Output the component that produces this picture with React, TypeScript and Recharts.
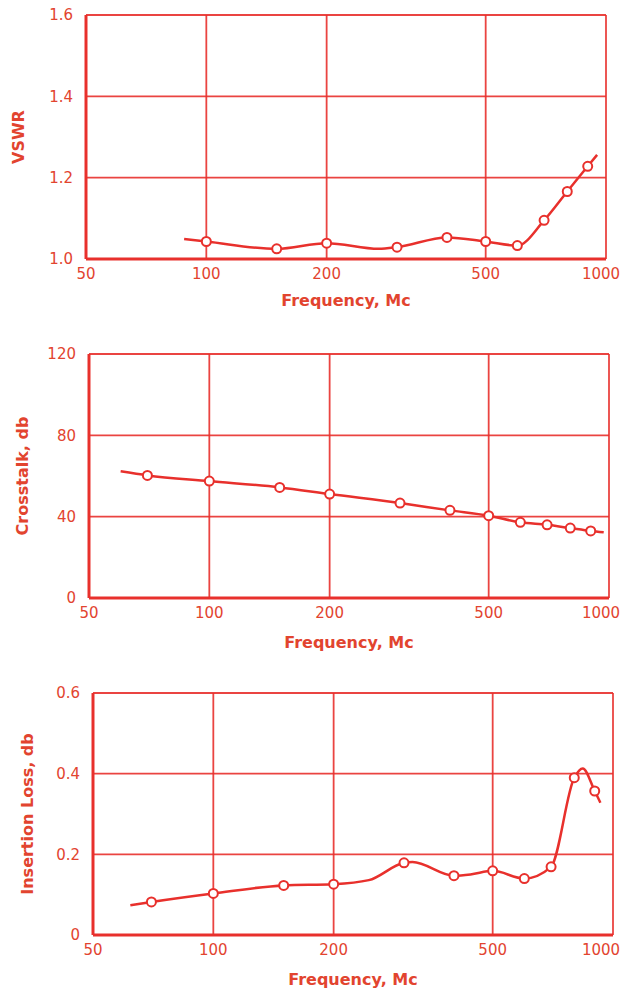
import React from 'react';
import { ComposedChart, Line, Scatter, XAxis, YAxis, CartesianGrid } from 'recharts';

const RED = '#e8302c';
const TEXT_RED = '#e2442f';
const FONT = '"DejaVu Sans", sans-serif';

const freqTicks = [50, 100, 200, 500, 1000];

// VSWR panel
const vswrFreq = [100, 150, 200, 300, 400, 500, 600, 700, 800, 900];
const vswrValues = [1.043, 1.025, 1.039, 1.029, 1.053, 1.043, 1.033, 1.095, 1.166, 1.228];
const vswrCurveFreq = [88, 100, 150, 200, 270, 300, 400, 500, 600, 700, 800, 900, 950];
const vswrCurveValues = [1.049, 1.043, 1.025, 1.039, 1.025, 1.029, 1.053, 1.043, 1.033, 1.095, 1.166, 1.228, 1.256];
const vswrTicks = [1.0, 1.2, 1.4, 1.6];

// Crosstalk panel
const xtalkFreq = [70, 100, 150, 200, 300, 400, 500, 600, 700, 800, 900];
const xtalkValues = [60.3, 57.5, 54.4, 51.1, 46.7, 43.1, 40.5, 37.2, 36, 34.4, 33];
const xtalkCurveFreq = [60, 70, 100, 150, 200, 300, 400, 500, 600, 700, 800, 900, 970];
const xtalkCurveValues = [62.3, 60.3, 57.5, 54.4, 51.1, 46.7, 43.1, 40.5, 37.2, 36, 34.4, 33, 32.3];
const xtalkTicks = [0, 40, 80, 120];

// Insertion loss panel
const lossFreq = [70, 100, 150, 200, 300, 400, 500, 600, 700, 800, 900];
const lossValues = [0.082, 0.103, 0.123, 0.126, 0.179, 0.147, 0.159, 0.14, 0.169, 0.39, 0.357];
const lossCurveFreq = [62, 70, 100, 150, 200, 245, 300, 315, 400, 440, 500, 600, 700, 800, 840, 900, 930];
const lossCurveValues = [0.074, 0.082, 0.103, 0.123, 0.126, 0.136, 0.179, 0.181, 0.147, 0.15, 0.159, 0.14, 0.169, 0.39, 0.413, 0.357, 0.328];
const lossTicks = [0, 0.2, 0.4, 0.6];

const toRows = (fs: number[], vs: number[]) => fs.map((f, i) => ({ f, v: vs[i] }));

const Marker = (p: any) => (
  <circle cx={p.cx} cy={p.cy} r={4.5} fill="#fff" stroke={RED} strokeWidth={2} />
);

// last label sits against the page edge, nudge it in a bit
const FreqTick = (p: any) => (
  <text
    x={p.x}
    y={p.y}
    dx={p.payload.value === 1000 ? -5 : 0}
    dy="0.71em"
    textAnchor="middle"
    fill={TEXT_RED}
    fontSize={15}
    fontFamily={FONT}
  >
    {p.payload.value}
  </text>
);

interface PanelProps {
  top: number;
  height: number;
  margin: { top: number; right: number; bottom: number; left: number };
  xAxisHeight: number;
  yLabel: string;
  yLabelOffset: number;
  yTicks: number[];
  fmt: (v: number) => string;
  curve: { f: number; v: number }[];
  points: { f: number; v: number }[];
}

const Panel: React.FC<PanelProps> = ({ top, height, margin, xAxisHeight, yLabel, yLabelOffset, yTicks, fmt, curve, points }) => (
  <div style={{ position: 'absolute', left: 0, top, width: 622, height }}>
    <ComposedChart width={622} height={height} margin={margin}>
      <CartesianGrid stroke={RED} strokeWidth={1.8} strokeOpacity={0.9} />
      <XAxis
        dataKey="f"
        type="number"
        scale="log"
        domain={[50, 1000]}
        ticks={freqTicks}
        allowDataOverflow
        height={xAxisHeight}
        tickSize={0}
        tickMargin={9}
        axisLine={{ stroke: RED, strokeWidth: 3 }}
        tick={FreqTick}
        label={{ value: 'Frequency, Mc', position: 'insideBottom', offset: 0, fill: TEXT_RED, fontSize: 16, fontWeight: 'bold', fontFamily: FONT }}
      />
      <YAxis
        type="number"
        domain={[yTicks[0], yTicks[yTicks.length - 1]]}
        ticks={yTicks}
        width={76}
        tickSize={0}
        tickMargin={13}
        tickFormatter={fmt}
        axisLine={{ stroke: RED, strokeWidth: 3 }}
        tick={{ fill: TEXT_RED, fontSize: 15, fontFamily: FONT }}
        label={{ value: yLabel, angle: -90, position: 'insideLeft', offset: yLabelOffset, fill: TEXT_RED, fontSize: 16, fontWeight: 'bold', fontFamily: FONT, style: { textAnchor: 'middle' } }}
      />
      <Line data={curve} dataKey="v" type="monotone" stroke={RED} strokeWidth={2.5} dot={false} isAnimationActive={false} />
      <Scatter data={points} dataKey="v" shape={Marker} isAnimationActive={false} />
    </ComposedChart>
  </div>
);

export default function App() {
  return (
    <div style={{ position: 'absolute', left: 0, top: 0, width: 622, height: 994, background: '#fff' }}>
      <Panel
        top={0}
        height={316}
        margin={{ top: 15, right: 16, bottom: 10, left: 10 }}
        xAxisHeight={47}
        yLabel="VSWR"
        yLabelOffset={8}
        yTicks={vswrTicks}
        fmt={(v) => v.toFixed(1)}
        curve={toRows(vswrCurveFreq, vswrCurveValues)}
        points={toRows(vswrFreq, vswrValues)}
      />
      <Panel
        top={330}
        height={330}
        margin={{ top: 24, right: 13, bottom: 12, left: 13 }}
        xAxisHeight={50}
        yLabel="Crosstalk, db"
        yLabelOffset={9}
        yTicks={xtalkTicks}
        fmt={(v) => String(v)}
        curve={toRows(xtalkCurveFreq, xtalkCurveValues)}
        points={toRows(xtalkFreq, xtalkValues)}
      />
      <Panel
        top={670}
        height={324}
        margin={{ top: 23, right: 9, bottom: 9, left: 17 }}
        xAxisHeight={50}
        yLabel="Insertion Loss, db"
        yLabelOffset={10}
        yTicks={lossTicks}
        fmt={(v) => (v === 0 ? '0' : v.toFixed(1))}
        curve={toRows(lossCurveFreq, lossCurveValues)}
        points={toRows(lossFreq, lossValues)}
      />
    </div>
  );
}
